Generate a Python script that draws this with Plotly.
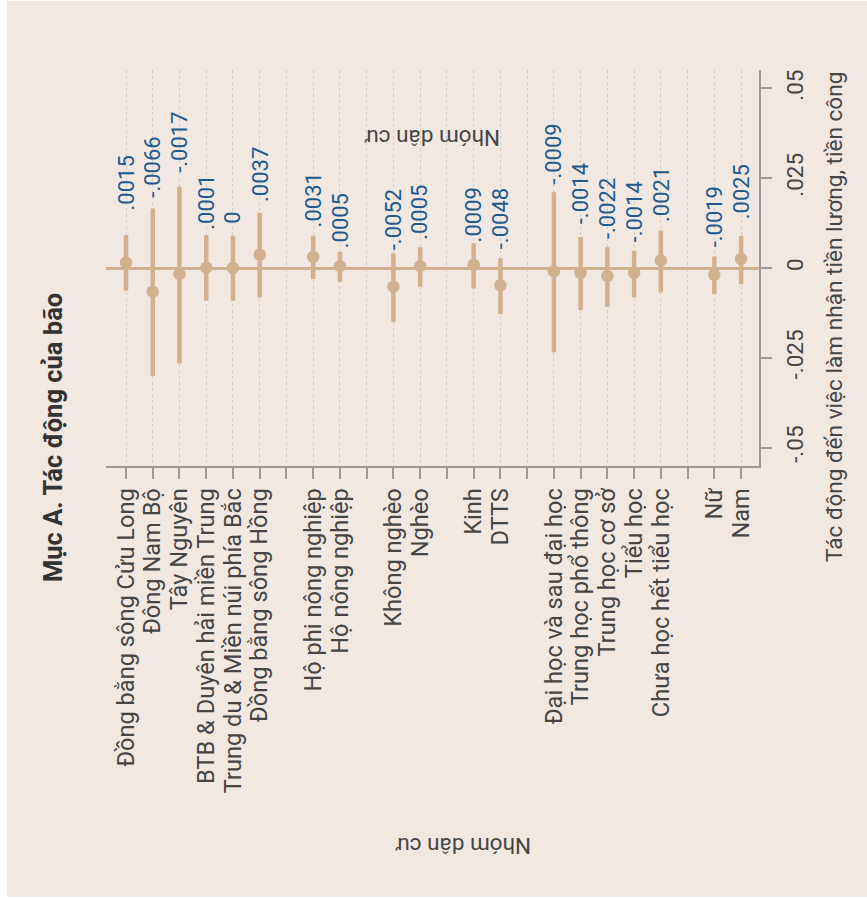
import plotly.graph_objects as go

# ---- data -------------------------------------------------------------
categories = [
    "Đồng bằng sông Cửu Long", "Đông Nam Bộ", "Tây Nguyên",
    "BTB & Duyên hải miền Trung", "Trung du & Miền núi phía Bắc",
    "Đồng bằng sông Hồng", "",
    "Hộ phi nông nghiệp", "Hộ nông nghiệp", "",
    "Không nghèo", "Nghèo", "",
    "Kinh", "DTTS", "",
    "Đại học và sau đại học", "Trung học phổ thông", "Trung học cơ sở",
    "Tiểu học", "Chưa học hết tiểu học", "",
    "Nữ", "Nam",
]
estimate = [0.0015, -0.0066, -0.0017, 0.0001, 0.0, 0.0037, None,
            0.0031, 0.0005, None,
            -0.0052, 0.0005, None,
            0.0009, -0.0048, None,
            -0.0009, -0.0014, -0.0022, -0.0014, 0.0021, None,
            -0.0019, 0.0025]
ci_low = [-0.0063, -0.0301, -0.0266, -0.0091, -0.0091, -0.0082, None,
          -0.0031, -0.0038, None,
          -0.0150, -0.0052, None,
          -0.0057, -0.0128, None,
          -0.0235, -0.0117, -0.0108, -0.0082, -0.0068, None,
          -0.0073, -0.0045]
ci_high = [0.0092, 0.0166, 0.0226, 0.0092, 0.0090, 0.0154, None,
           0.0090, 0.0045, None,
           0.0041, 0.0058, None,
           0.0069, 0.0027, None,
           0.0211, 0.0086, 0.0058, 0.0048, 0.0104, None,
           0.0032, 0.0090]
value_ticks = [-0.05, -0.025, 0, 0.025, 0.05]
value_tick_text = ["-.05", "-.025", "0", ".025", ".05"]

# gap (px) between the top of each interval and its value label
label_gap = [24, 11, 14, 5, 12, 11, 0, 8, 4, 0, 3, 7, 0, 1, 9, 0,
             8, 13, 8, 8, 9, 0, 9, 16]

# ---- styling ----------------------------------------------------------
BG = "#f1e8e2"
TAN = "#d2b18f"
BLUE = "#1f5a8f"
TEXT = "#454545"
AXIS = "#9a9a9a"
GRID = "#d3ccc6"
FONT = "Roboto"

W, H = 867, 898
PL, PR, PT, PB = 106, 759, 70, 466  # plot area in pixels


def px_x(x):
    return (x - PL) / (PR - PL)


def px_y(y):
    return (PB - y) / (PB - PT)


def stata_fmt(v):
    if v == 0:
        return "0"
    s = f"{v:.4f}"
    return s.replace("0.", ".", 1)


positions = list(range(1, len(categories) + 1))
xs = [p for p, e in zip(positions, estimate) if e is not None]
est = [e for e in estimate if e is not None]
lo = [l for l in ci_low if l is not None]
hi = [h for h in ci_high if h is not None]

fig = go.Figure()
fig.add_trace(go.Scatter(
    x=xs, y=est, mode="markers",
    marker=dict(size=12.5, color=TAN),
    error_y=dict(type="data", symmetric=False,
                 array=[h - e for h, e in zip(hi, est)],
                 arrayminus=[e - l for e, l in zip(est, lo)],
                 color=TAN, thickness=4.5, width=0),
    hoverinfo="skip", showlegend=False,
))

annotations = []
for p, e, h, g in zip(positions, estimate, ci_high, label_gap):
    if e is None:
        continue
    annotations.append(dict(
        x=p, y=h, xref="x", yref="y", text=stata_fmt(e),
        textangle=-90, showarrow=False, xanchor="center", yanchor="bottom",
        yshift=g - 2, font=dict(family=FONT, size=22, color=BLUE),
    ))

# titles
annotations += [
    dict(x=px_x(53), y=px_y(438), xref="paper", yref="paper",
         text="<b>Mục A. Tác động của bão</b>", textangle=-90, showarrow=False,
         xanchor="center", yanchor="middle",
         font=dict(family=FONT, size=25.5, color="#333333")),
    dict(x=px_x(834), y=px_y(317), xref="paper", yref="paper",
         text="Tác động đến việc làm nhận tiền lương, tiền công",
         textangle=-90, showarrow=False, xanchor="center", yanchor="middle",
         font=dict(family=FONT, size=22.6, color=TEXT)),
    dict(x=px_x(463), y=px_y(846), xref="paper", yref="paper",
         text="Nhóm dân cư", textangle=180, showarrow=False,
         xanchor="center", yanchor="middle",
         font=dict(family=FONT, size=22.5, color=TEXT)),
    dict(x=px_x(432), y=px_y(138), xref="paper", yref="paper",
         text="Nhóm dân cư", textangle=180, showarrow=False,
         xanchor="center", yanchor="middle",
         font=dict(family=FONT, size=22.5, color=TEXT)),
]

shapes = [
    dict(type="rect", xref="paper", yref="paper", layer="below",
         x0=px_x(7), x1=px_x(W + 2), y0=px_y(897), y1=px_y(1),
         fillcolor=BG, line=dict(width=0)),
]

fig.update_layout(
    width=W, height=H,
    margin=dict(l=PL, r=W - PR, t=PT, b=H - PB, autoexpand=False),
    paper_bgcolor="#ffffff", plot_bgcolor=BG,
    font=dict(family=FONT, size=22, color=TEXT),
    annotations=annotations, shapes=shapes,
    xaxis=dict(
        range=[0.252, 24.67], tickmode="array", tickvals=positions,
        ticktext=categories, tickangle=-90,
        showgrid=True, gridcolor=GRID, griddash="dot", gridwidth=1,
        showline=True, linecolor=AXIS, linewidth=1.5,
        ticks="outside", ticklen=11, tickwidth=1.5, tickcolor=AXIS,
        tickfont=dict(family=FONT, size=23.6, color=TEXT),
        zeroline=False, fixedrange=True,
    ),
    yaxis=dict(
        range=[-0.05515, 0.05515], side="right", tickmode="array",
        tickvals=value_ticks, ticktext=value_tick_text, tickangle=-90,
        showgrid=False, zeroline=True, zerolinecolor=TAN, zerolinewidth=2.5,
        showline=True, linecolor=AXIS, linewidth=1.5,
        ticks="outside", ticklen=11, tickwidth=1.5, tickcolor=AXIS,
        ticklabelstandoff=4,
        tickfont=dict(family=FONT, size=22.5, color=TEXT),
        fixedrange=True,
    ),
)

fig.write_html("out.html")
